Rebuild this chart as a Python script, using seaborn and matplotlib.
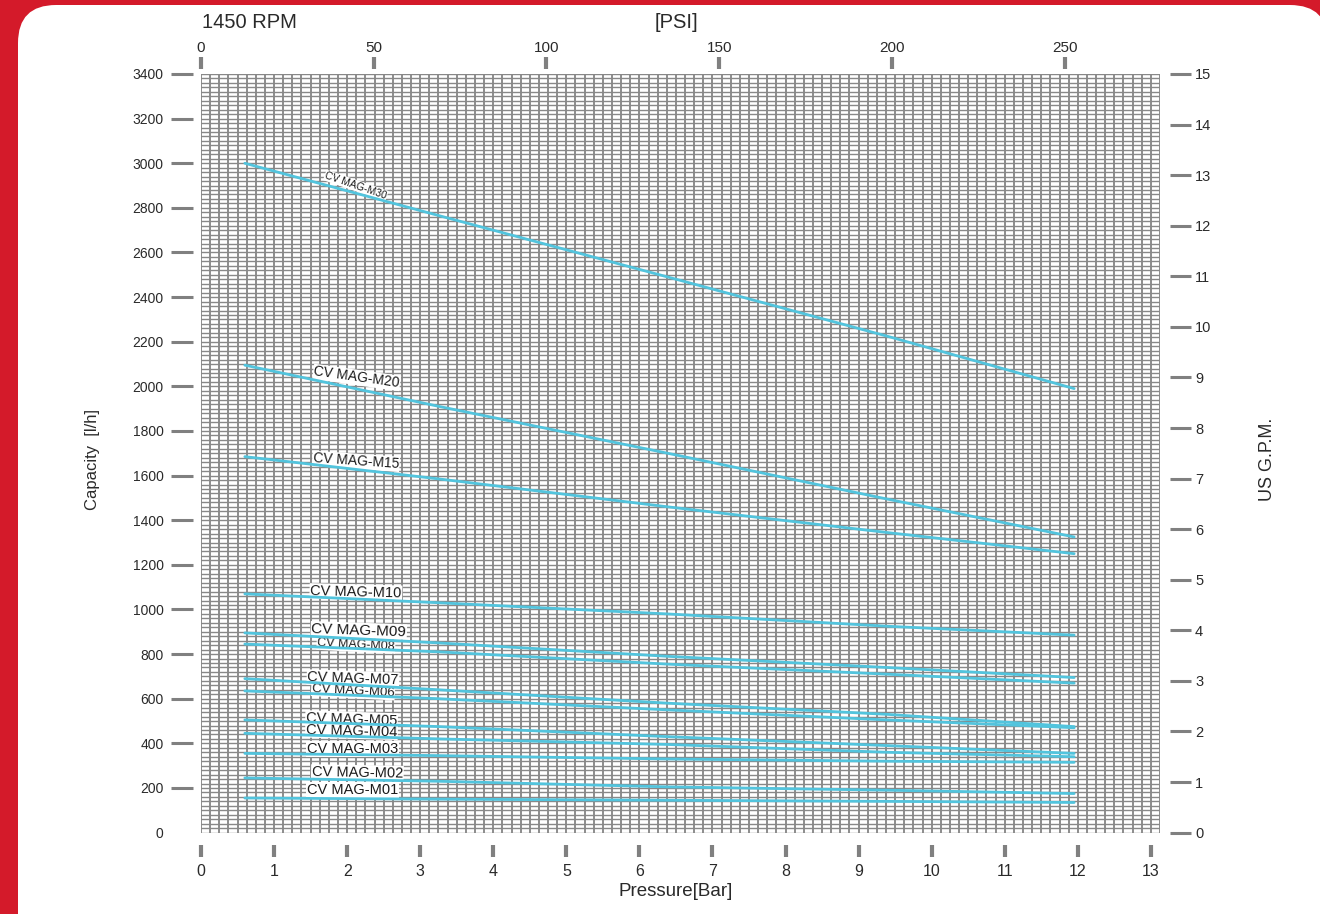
import numpy as np
import pandas as pd
import matplotlib.pyplot as plt
import seaborn as sns
from matplotlib.patches import FancyBboxPatch

# pump curves, capacity [l/h] read at these pressures [bar]
pressure_bar = [0.6, 3.26, 6.39, 9.39, 11.95]
cap_m30 = [3000, 2765, 2490, 2225, 1990]
cap_m20 = [2095, 1910, 1700, 1495, 1325]
cap_m15 = [1685, 1585, 1460, 1345, 1250]
cap_m10 = [1070, 1030, 980, 925, 885]
cap_m09 = [895, 850, 790, 740, 695]
cap_m08 = [845, 810, 755, 710, 670]
cap_m07 = [690, 640, 580, 530, 475]
cap_m06 = [635, 600, 550, 505, 470]
cap_m05 = [505, 475, 430, 390, 355]
cap_m04 = [445, 420, 395, 360, 340]
cap_m03 = [355, 345, 330, 320, 315]
cap_m02 = [245, 230, 205, 190, 175]
cap_m01 = [155, 150, 145, 140, 135]

models = ['CV MAG-M30', 'CV MAG-M20', 'CV MAG-M15', 'CV MAG-M10', 'CV MAG-M09',
          'CV MAG-M08', 'CV MAG-M07', 'CV MAG-M06', 'CV MAG-M05', 'CV MAG-M04',
          'CV MAG-M03', 'CV MAG-M02', 'CV MAG-M01']
capacities = [cap_m30, cap_m20, cap_m15, cap_m10, cap_m09, cap_m08, cap_m07,
              cap_m06, cap_m05, cap_m04, cap_m03, cap_m02, cap_m01]

bar_ticks = list(range(0, 14))
lh_ticks = list(range(0, 3401, 200))
psi_ticks = [0, 50, 100, 150, 200, 250]
gpm_ticks = list(range(0, 16))

PSI_PER_BAR = 250 / 11.82
GPM_PER_LH = 15 / 3400

# label placement: x, y, rotation, fontsize
label_pos = {
    'CV MAG-M30': (2.12, 2900, -19, 7.5),
    'CV MAG-M20': (2.13, 2040, -8, 10),
    'CV MAG-M15': (2.12, 1664, -4, 10),
    'CV MAG-M10': (2.12, 1078, -1.5, 10.5),
    'CV MAG-M09': (2.16, 906, -2, 11),
    'CV MAG-M08': (2.12, 840, -3, 9),
    'CV MAG-M07': (2.08, 690, -2, 10.5),
    'CV MAG-M06': (2.08, 632, -3, 9.5),
    'CV MAG-M05': (2.06, 507, -2, 10.5),
    'CV MAG-M04': (2.06, 455, -1.5, 10.5),
    'CV MAG-M03': (2.07, 374, 0, 10.5),
    'CV MAG-M02': (2.14, 268, -1, 10.5),
    'CV MAG-M01': (2.07, 191, 0, 10.5),
}

rows = []
for name, caps in zip(models, capacities):
    for p, c in zip(pressure_bar, caps):
        rows.append({'model': name, 'bar': p, 'lh': c})
df = pd.DataFrame(rows)

sns.set_theme(style='white')
plt.rcParams['font.family'] = ['Liberation Sans', 'DejaVu Sans']
TICK_C = '#808080'
TXT_C = '#2a2a2a'
LINE_C = '#52c4dd'

fig = plt.figure(figsize=(13.2, 9.14), dpi=100, facecolor='#d41a2a')
card = FancyBboxPatch((0.18, -0.5), 13.1, 9.59, boxstyle='round,pad=0,rounding_size=0.38',
                      transform=fig.dpi_scale_trans, fc='white', ec='none', zorder=0)
fig.add_artist(card)

ax = fig.add_axes([201 / 1320, 81.4 / 914, 959 / 1320, 758.6 / 914])
ax.set_facecolor('none')

sns.lineplot(data=df, x='bar', y='lh', hue='model', palette=[LINE_C] * len(models),
             estimator=None, legend=False, linewidth=2.0, ax=ax, zorder=3)

for name in models:
    x, y, rot, fs = label_pos[name]
    ax.text(x, y, name, rotation=rot, fontsize=fs, color='#1a1a1a', ha='center', va='center',
            rotation_mode='anchor', zorder=2,
            bbox=dict(boxstyle='square,pad=0.05', fc='white', ec='none'))

ax.set_xlim(0, 13.125)
ax.set_ylim(0, 3400)
ax.set_xticks(bar_ticks)
ax.set_yticks(lh_ticks)
ax.set_xticks(np.arange(0, 13.126, 0.125), minor=True)
ax.set_yticks(np.arange(0, 3401, 20), minor=True)
ax.set_xlabel('')
ax.set_ylabel('')
ax.set_axisbelow(True)
ax.xaxis.grid(True, which='both', color='#7e7e7e', linewidth=1.25)
ax.yaxis.grid(True, which='both', color='#888888', linewidth=1.0)

for s in ax.spines.values():
    s.set_visible(False)
ax.spines['left'].set_position(('outward', 6))
ax.spines['bottom'].set_position(('outward', 9))

ax.tick_params(axis='y', which='major', left=True, direction='out', length=16, width=2.2,
               color=TICK_C, pad=5, labelsize=10, labelcolor=TXT_C)
ax.tick_params(axis='x', which='major', bottom=True, direction='out', length=8.6, width=3,
               color=TICK_C, pad=5, labelsize=11.5, labelcolor=TXT_C)
ax.tick_params(which='minor', length=0)
ax.yaxis.get_major_ticks()[0].tick1line.set_visible(False)

secx = ax.secondary_xaxis(1 + 5 / 758.6, functions=(lambda b: b * PSI_PER_BAR,
                                                    lambda p: p / PSI_PER_BAR))
secx.set_xticks(psi_ticks)
secx.tick_params(direction='out', length=9, width=3, color=TICK_C, pad=1,
                 labelsize=11, labelcolor=TXT_C)
for s in secx.spines.values():
    s.set_visible(False)

secy = ax.secondary_yaxis(1 + 10 / 959, functions=(lambda v: v * GPM_PER_LH,
                                                   lambda g: g / GPM_PER_LH))
secy.set_yticks(gpm_ticks)
secy.tick_params(direction='out', length=15, width=2.2, color=TICK_C, pad=3,
                 labelsize=10.5, labelcolor=TXT_C)
for s in secy.spines.values():
    s.set_visible(False)

fig.text(202 / 1320, 1 - 22 / 914, '1450 RPM', ha='left', va='center', fontsize=14.5, color=TXT_C)
fig.text(676 / 1320, 1 - 22 / 914, '[PSI]', ha='center', va='center', fontsize=14.5, color=TXT_C)
fig.text(676 / 1320, 1 - 892 / 914, 'Pressure[Bar]', ha='center', va='center', fontsize=13.5, color=TXT_C)
fig.text(93 / 1320, 1 - 460 / 914, 'Capacity  [l/h]', ha='center', va='center', rotation=90,
         fontsize=12, color=TXT_C)
fig.text(1268 / 1320, 1 - 459 / 914, 'US G.P.M.', ha='center', va='center', rotation=90,
         fontsize=13, color=TXT_C)

fig.savefig('out.png', dpi=100, facecolor=fig.get_facecolor())
